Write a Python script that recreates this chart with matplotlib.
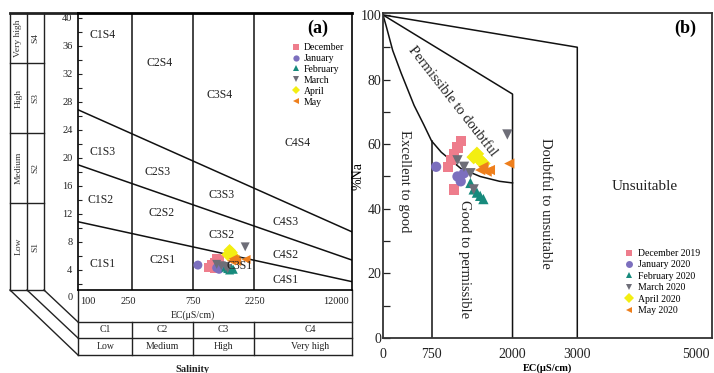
import numpy as np
import matplotlib
matplotlib.use("Agg")
import matplotlib.pyplot as plt
from matplotlib.lines import Line2D
from matplotlib.ticker import NullLocator, FixedLocator
from matplotlib.transforms import blended_transform_factory, ScaledTranslation

plt.rcParams['font.family'] = ['Liberation Serif', 'DejaVu Serif']
plt.rcParams['mathtext.fontset'] = 'stix'

# ---------------- data ----------------
months = ['December', 'January', 'February', 'March', 'April', 'May']
months_b = ['December 2019', 'January 2020', 'February 2020', 'March 2020', 'April 2020', 'May 2020']
colors = ['#EE7D8C', '#7C6FBE', '#178A7C', '#6E6E78', '#F3EE12', '#EE7F1C']
markers = ['s', 'o', '^', 'v', 'D', '<']

ec_dec = [1000, 1050, 1100, 1150, 1200, 1100]
ec_jan = [820, 1150, 1200, 1250]
ec_feb = [1350, 1400, 1450, 1500, 1550]
ec_mar = [1150, 1250, 1350, 1400, 1920]
ec_apr = [1400, 1450, 1500, 1550]
ec_may = [1500, 1550, 1600, 1650, 1950]

sar_dec = [4.4, 4.8, 5.1, 5.7, 5.5, 4.2]
sar_jan = [4.7, 4.3, 4.1, 4.5]
sar_feb = [4.4, 4.2, 4.0, 4.3, 4.1]
sar_mar = [4.8, 4.6, 4.5, 4.2, 7.3]
sar_apr = [6.2, 6.8, 6.5, 6.0]
sar_may = [5.3, 5.6, 5.5, 5.2, 5.5]

na_dec = [53, 55, 57, 59, 61, 46]
na_jan = [53, 50, 48.5, 51]
na_feb = [48, 46, 45, 44, 43]
na_mar = [55, 53, 51, 46, 63]
na_apr = [56, 57, 55, 54]
na_may = [52, 53, 51.5, 52, 54]

ec_all = [ec_dec, ec_jan, ec_feb, ec_mar, ec_apr, ec_may]
sar_all = [sar_dec, sar_jan, sar_feb, sar_mar, sar_apr, sar_may]
na_all = [na_dec, na_jan, na_feb, na_mar, na_apr, na_may]

# USSL diagram (a)
ec_bounds = [250, 750, 2250]
sar_line_intercept = [43.0, 31.6, 18.8]
sar_line_slope = [8.15, 6.36, 4.0]
sar_ticks = [4, 8, 12, 16, 20, 24, 28, 32, 36, 40]
ec_tick_vals = [100, 250, 750, 2250, 12000]
ec_tick_labels = ['100', '250', '750', '2250', '12000']
class_names = ['C1', 'C2', 'C3', 'C4']
class_levels = ['Low', 'Medium', 'High', 'Very high']
class_centers = [155, 435, 1300, 6200]

# Wilcox diagram (b)
w_outer_x = [0, 3000, 3000]
w_outer_y = [100, 90, 0]
w_mid_x = [0, 2000, 2000]
w_mid_y = [100, 75.5, 0]
w_curve_x = [0, 50, 150, 280, 380, 480, 630, 750, 900, 1050, 1200, 1500, 1800, 2000]
w_curve_y = [100, 96.5, 89, 82, 77, 72, 66, 61, 57.5, 55, 52.5, 50, 48.5, 48]
w_750_x = [750, 750]
w_750_y = [61, 0]
b_xticks = [0, 750, 2000, 3000, 5000]
b_yticks = [0, 20, 40, 60, 80, 100]

# ---------------- figure ----------------
W, H = 714, 373
fig = plt.figure(figsize=(W / 100, H / 100), dpi=100)


def frac(l, t, r, b):
    return [l / W, 1 - b / H, (r - l) / W, (b - t) / H]


def px(x, y):
    return x / W, 1 - y / H


ov = fig.add_axes([0, 0, 1, 1])
ov.set_xlim(0, W)
ov.set_ylim(H, 0)
ov.axis('off')

# ---------- panel (a) ----------
axA = fig.add_axes(frac(78, 13, 352, 290))
axA.set_xscale('log')
axA.set_xlim(95, 13100)
axA.set_ylim(1.14, 40.7)
axA.xaxis.set_major_locator(NullLocator())
axA.xaxis.set_minor_locator(NullLocator())
axA.set_yticks(sar_ticks)
axA.yaxis.set_minor_locator(FixedLocator([2, 6, 10, 14, 18, 22, 26, 30, 34, 38]))
axA.tick_params(axis='y', which='both', direction='in', length=3, width=0.8,
                labelsize=7.5, pad=4, colors='#222222')
for s in axA.spines.values():
    s.set_linewidth(1.2)
axA.spines['top'].set_linewidth(2.0)

for b in ec_bounds:
    axA.axvline(b, color='#111111', lw=1.1)
xl = np.array(axA.get_xlim())
for a, s in zip(sar_line_intercept, sar_line_slope):
    axA.plot(xl, a - s * np.log10(xl), color='#111111', lw=1.1)

for ec, sar, c, m in zip(ec_all, sar_all, colors, markers):
    axA.scatter(ec, sar, s=42, c=c, marker=m, edgecolors='none', zorder=3)

handlesA = [Line2D([], [], ls='none', marker=m, color=c, markersize=4.5, markeredgewidth=0)
            for m, c in zip(markers, colors)]
axA.legend(handlesA, months, loc='upper left', bbox_to_anchor=px(292, 43),
           bbox_transform=fig.transFigure, frameon=False, borderpad=0, borderaxespad=0,
           handlelength=0.8, handletextpad=0.4, labelspacing=0.2, fontsize=7)

fig.text(*px(318, 28), '(a)', fontsize=13, fontweight='bold', ha='center', va='center')

region_labels = [
    ('C1S4', 103, 35), ('C2S4', 160, 63), ('C3S4', 220, 95), ('C4S4', 298, 143),
    ('C1S3', 103, 152), ('C2S3', 158, 172), ('C3S3', 222, 195), ('C4S3', 286, 222),
    ('C1S2', 101, 200), ('C2S2', 162, 213), ('C3S2', 222, 235), ('C4S2', 286, 255),
    ('C1S1', 103, 264), ('C2S1', 163, 260), ('C3S1', 240, 266), ('C4S1', 286, 280)]
for t, x, y in region_labels:
    fig.text(*px(x, y), t, fontsize=8.5, ha='center', va='center', color='#222222')

# left table
lk = dict(color='#222222', lw=1.0)
ov.plot([10, 10], [13, 290], **lk)
ov.plot([27, 27], [13, 290], **lk)
ov.plot([44, 44], [13, 290], **lk)
ov.plot([10, 78], [13, 13], color='#222222', lw=2.0)
ov.plot([10, 44], [290, 290], **lk)
for yy in [63, 133, 203]:
    ov.plot([10, 44], [yy, yy], **lk)
ov.plot([10, 78], [290, 355], **lk)
ov.plot([27, 78], [290, 338], **lk)
ov.plot([44, 78], [290, 322], **lk)
for txt, y0, y1 in [('Very high', 13, 63), ('High', 63, 133), ('Medium', 133, 203), ('Low', 203, 290)]:
    ov.text(18.5, (y0 + y1) / 2, txt, rotation=90, fontsize=6.8, ha='center', va='center', color='#333333')
for txt, y0, y1 in [('S4', 13, 63), ('S3', 63, 133), ('S2', 133, 203), ('S1', 203, 290)]:
    ov.text(35.5, (y0 + y1) / 2, txt, rotation=90, fontsize=6.8, ha='center', va='center', color='#333333')
ov.text(73, 297, '0', fontsize=7.5, ha='right', va='center', color='#222222')

# bottom table
ov.plot([78, 78], [290, 355], **lk)
ov.plot([352, 352], [290, 355], **lk)
for yy in [322, 338, 355]:
    ov.plot([78, 352], [yy, yy], **lk)
bt = blended_transform_factory(axA.transData, ov.transData)
for b in ec_bounds:
    ov.plot([b, b], [322, 355], transform=bt, **lk)
tick_x_px = [88, 128, 193, 255, 336]
for lab, xp in zip(ec_tick_labels, tick_x_px):
    ov.text(xp, 302, lab, fontsize=7.5, ha='center', va='center', color='#222222')
ov.text(193, 315, 'EC(μS/cm)', fontsize=7, ha='center', va='center', color='#222222')
for n, lvl, cx in zip(class_names, class_levels, class_centers):
    ov.text(cx, 330, n, transform=bt, fontsize=7, ha='center', va='center', color='#222222')
    ov.text(cx, 346.5, lvl, transform=bt, fontsize=7, ha='center', va='center', color='#222222')
ov.text(193, 369, 'Salinity', fontsize=7.5, fontweight='bold', ha='center', va='center', color='#222222')

# ---------- panel (b) ----------
axB = fig.add_axes(frac(383, 13, 712, 338))
axB.set_xlim(0, 5080)
axB.set_ylim(0, 100.6)
axB.set_xticks(b_xticks)
axB.set_yticks(b_yticks)
axB.yaxis.set_minor_locator(FixedLocator([10, 30, 50, 70, 90]))
axB.tick_params(axis='x', length=0, labelsize=10, pad=7, colors='#222222')
axB.tick_params(axis='y', which='both', direction='in', length=5, width=0.9,
                labelsize=10, pad=1, colors='#222222')
last = axB.get_xticklabels()[-1]
last.set_horizontalalignment('right')
last.set_transform(last.get_transform() + ScaledTranslation(3 / 100, 0, fig.dpi_scale_trans))
for s in axB.spines.values():
    s.set_linewidth(1.3)
    s.set_color('#333333')
axB.set_xlabel('EC(μS/cm)', fontsize=7.5, fontweight='bold', labelpad=2)
axB.set_ylabel('%Na', fontsize=10)
axB.yaxis.set_label_coords(-0.055, 0.50)

axB.plot(w_outer_x, w_outer_y, color='#111111', lw=1.1)
axB.plot(w_mid_x, w_mid_y, color='#111111', lw=1.1)
axB.plot(w_curve_x, w_curve_y, color='#111111', lw=1.1)
axB.plot(w_750_x, w_750_y, color='#111111', lw=1.1)

for ec, na, c, m in zip(ec_all, na_all, colors, markers):
    axB.scatter(ec, na, s=55, c=c, marker=m, edgecolors='none', zorder=3)

handlesB = [Line2D([], [], ls='none', marker=m, color=c, markersize=5, markeredgewidth=0)
            for m, c in zip(markers, colors)]
axB.legend(handlesB, months_b, loc='upper left', bbox_to_anchor=px(625, 249),
           bbox_transform=fig.transFigure, frameon=False, borderpad=0, borderaxespad=0,
           handlelength=0.9, handletextpad=0.4, labelspacing=0.25, fontsize=7)

fig.text(*px(685, 28), '(b)', fontsize=13, fontweight='bold', ha='center', va='center')
fig.text(*px(453, 101), 'Permissible to doubtful', fontsize=10.5, rotation=-52,
         ha='center', va='center', color='#222222', rotation_mode='anchor')
fig.text(*px(405, 181), 'Excellent to good', fontsize=10.5, rotation=-90,
         ha='center', va='center', color='#222222')
fig.text(*px(465, 259), 'Good to permissible', fontsize=10.5, rotation=-90,
         ha='center', va='center', color='#222222')
fig.text(*px(545, 203), 'Doubtful to unsuitable', fontsize=10.5, rotation=-90,
         ha='center', va='center', color='#222222')
fig.text(*px(645, 186), 'Unsuitable', fontsize=11, ha='center', va='center', color='#222222')

fig.savefig('out.png', dpi=100)
